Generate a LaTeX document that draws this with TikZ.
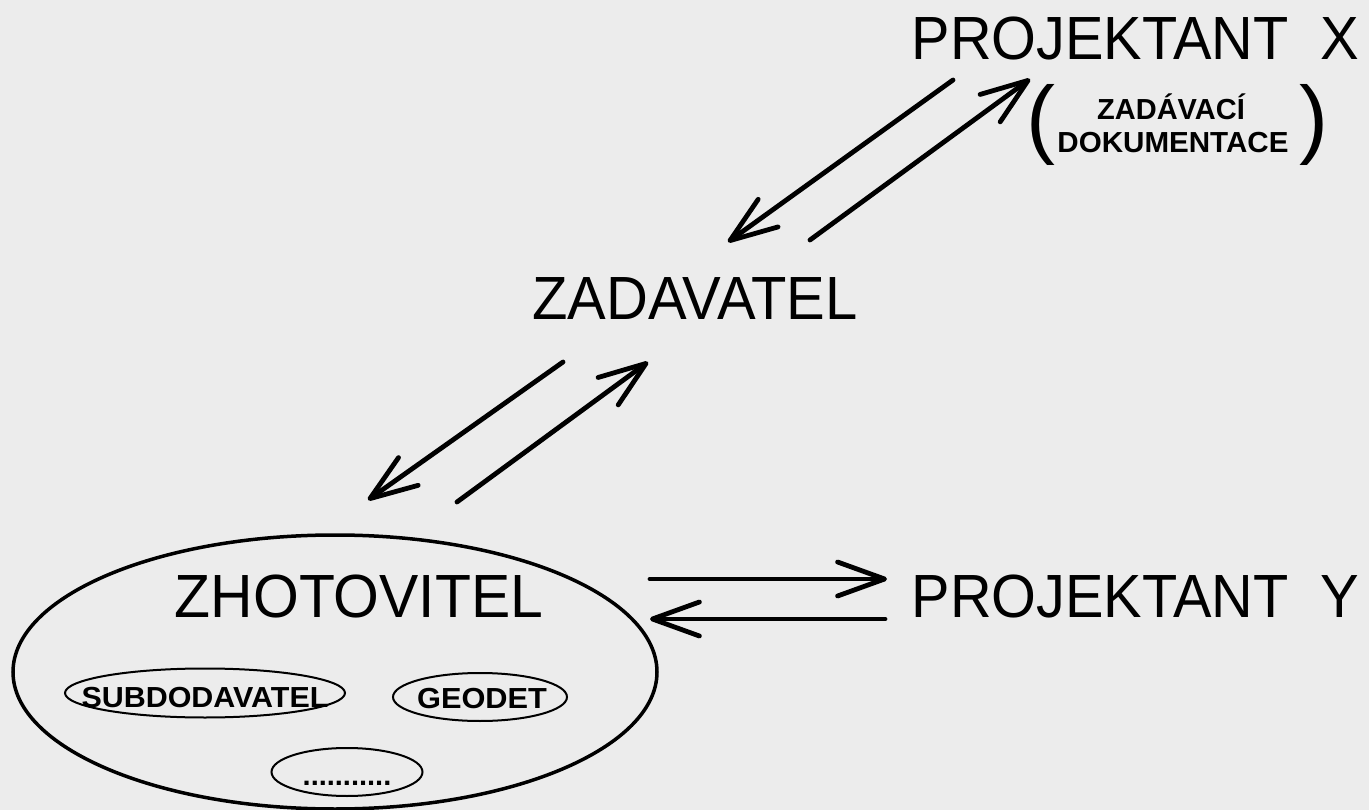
\documentclass[tikz,border=0pt]{standalone}
\usepackage{fontspec}
\setmainfont{Liberation Sans}
\usetikzlibrary{arrows.meta,shapes.geometric}
\definecolor{bg}{RGB}{236,236,236}
\tikzset{
  bigtxt/.style={font=\fontsize{61}{70}\selectfont, inner sep=0pt, anchor=base},
  smalltxt/.style={font=\bfseries\fontsize{29}{34}\selectfont, inner sep=0pt, anchor=base},
  paren/.style={font=\fontsize{87}{90}\selectfont, inner sep=0pt, anchor=base west},
  conn/.style={line width=4.8pt, line cap=round,
    -{Straight Barb[length=47pt,width=34pt,round]}},
  subell/.style={draw, ellipse, line width=2pt, inner sep=0pt},
}
\begin{document}
\begin{tikzpicture}[x=1pt,y=-1pt]
\fill[bg] (0,0) rectangle (1369,810);
\useasboundingbox (0,0) rectangle (1369,810);

% texts
\node[bigtxt, xscale=0.945] (px) at (1100,60) {PROJEKTANT};
\node[bigtxt, xscale=0.95] (pxl) at (1340,60) {X};
\node[bigtxt, xscale=0.95] (zad) at (695,320) {ZADAVATEL};
\node[bigtxt, xscale=0.965] (zho) at (359,617) {ZHOTOVITEL};
\node[bigtxt, xscale=0.945] (py) at (1100,617) {PROJEKTANT};
\node[bigtxt, xscale=0.95] (pyl) at (1340,617) {Y};

\node[paren] (lp) at (1026.5,148) {(};
\node[paren] (rp) at (1299,148) {)};
\node[smalltxt] (zd) at (1171,120) {ZADÁVACÍ};
\node[smalltxt, xscale=1.02] (dok) at (1173,153) {DOKUMENTACE};

% ellipses
\node[draw, ellipse, line width=3.5pt, minimum width=644pt, minimum height=274pt, inner sep=0pt] (big) at (335,672) {};
\node[subell, minimum width=280pt, minimum height=49pt] (subE) at (205,693) {};
\node[subell, minimum width=174pt, minimum height=48pt] (geoE) at (480,697) {};
\node[subell, minimum width=151pt, minimum height=48pt] (dotE) at (347,772) {};
\node[smalltxt, xscale=1.05] (sub) at (205,707) {SUBDODAVATEL};
\node[smalltxt, xscale=1.06] (geo) at (482,708) {GEODET};
\node[smalltxt] (dots) at (347,785) {...........};

% arrow end points
\coordinate (t1s) at (953,80);
\coordinate (t1e) at (728,242);
\coordinate (t2s) at (810,240);
\coordinate (t2e) at (1030,79);
\coordinate (m1s) at (563,362);
\coordinate (m1e) at (368,500);
\coordinate (m2s) at (457,502);
\coordinate (m2e) at (648,362);
\coordinate (h1s) at (650,579);
\coordinate (h1e) at (887,579);
\coordinate (h2s) at (885,619);
\coordinate (h2e) at (650,619);

\draw[conn] (t1s) -- (t1e);
\draw[conn] (t2s) -- (t2e);
\draw[conn] (m1s) -- (m1e);
\draw[conn] (m2s) -- (m2e);
\draw[conn] (h1s) -- (h1e);
\draw[conn] (h2s) -- (h2e);
\end{tikzpicture}
\end{document}
